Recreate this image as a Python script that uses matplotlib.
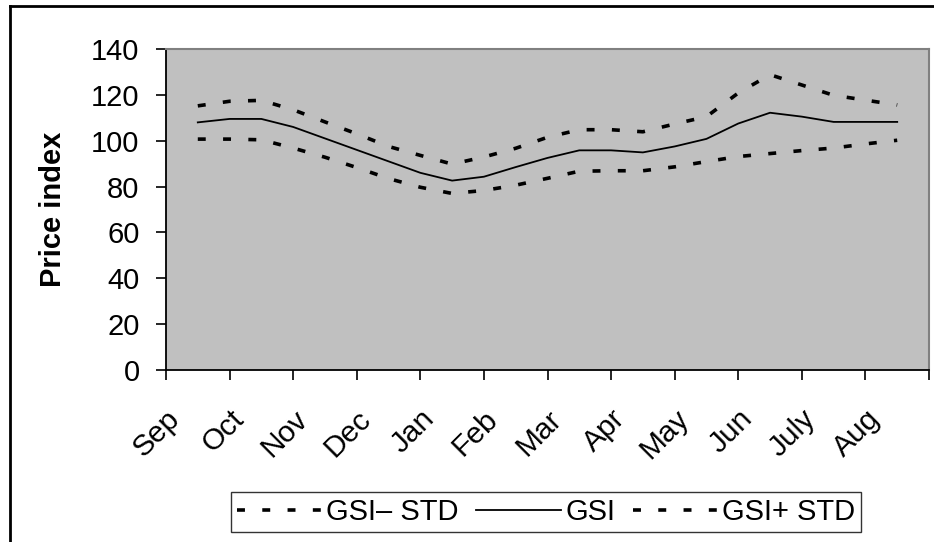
import numpy as np
import matplotlib
matplotlib.use("Agg")
import matplotlib.pyplot as plt
from matplotlib.lines import Line2D
from matplotlib.transforms import ScaledTranslation

plt.rcParams['font.family'] = ['Liberation Sans', 'DejaVu Sans']

months = ["Sep", "Oct", "Nov", "Dec", "Jan", "Feb", "Mar", "Apr", "May", "Jun", "July", "Aug"]
# semi-monthly observations, from mid-Sep to mid-Aug
gsi = [108.0, 109.5, 109.5, 106.0, 101.0, 96.0, 91.0, 86.0, 82.6, 84.3, 88.5, 92.5,
       95.8, 95.8, 94.9, 97.5, 100.8, 107.5, 112.2, 110.5, 108.2, 108.2, 108.2]
gsi_plus = [115.2, 117.2, 117.6, 113.5, 108.2, 103.0, 97.5, 93.6, 89.8, 92.9, 96.7, 101.5,
            104.8, 104.8, 103.9, 107.3, 110.5, 120.8, 128.8, 124.3, 119.8, 117.7, 115.6]
gsi_minus = [100.7, 100.7, 100.4, 96.8, 92.8, 88.3, 83.5, 79.7, 77.0, 78.3, 80.6, 83.6,
             86.7, 86.9, 86.9, 88.6, 90.9, 93.1, 94.4, 95.7, 96.8, 98.6, 100.2]
labels = ["GSI\u2013 STD", "GSI", "GSI+ STD"]
yticks = [0, 20, 40, 60, 80, 100, 120, 140]

W, H = 934, 542
fig = plt.figure(figsize=(W / 100, H / 100), dpi=100)
fig.patch.set_facecolor("white")
ax = fig.add_axes([166 / W, (H - 370) / H, (929 - 166) / W, (370 - 49) / H])
ax.set_facecolor("#C0C0C0")

x = 0.5 + 0.5 * np.arange(len(gsi))
dash = (2.2, 4.8)
l1, = ax.plot(x, gsi_minus, color="black", lw=2.6, dashes=dash, dash_capstyle="butt")
l2, = ax.plot(x, gsi, color="black", lw=1.3)
l3, = ax.plot(x, gsi_plus, color="black", lw=2.6, dashes=dash, dash_capstyle="butt")

ax.set_xlim(0, len(months))
ax.set_ylim(0, 140)
ax.set_yticks(yticks)
ax.set_yticklabels([str(v) for v in yticks])
ax.set_xticks(np.arange(len(months) + 1))
ax.set_xticklabels([])
ax.set_xticks(np.arange(len(months)) + 0.5, minor=True)
ax.set_xticklabels(months, minor=True, rotation=45, ha="right", va="center",
                   rotation_mode="anchor", fontsize=21.5)
ax.tick_params(axis="x", which="major", direction="out", length=7, width=1.2, color="black")
ax.tick_params(axis="x", which="minor", length=0, pad=32)
ax.tick_params(axis="y", direction="out", length=7, width=1.2, labelsize=21, pad=12)
offset = ScaledTranslation(-22 / 100, 0, fig.dpi_scale_trans)
for lab in ax.get_xticklabels(minor=True):
    lab.set_transform(lab.get_transform() + offset)

for s in ["top", "right"]:
    ax.spines[s].set_color("#808080")
    ax.spines[s].set_linewidth(1.5)
for s in ["left", "bottom"]:
    ax.spines[s].set_color("black")
    ax.spines[s].set_linewidth(1.3)

fig.text(53 / W, (H - 209) / H, "Price index", rotation=90, fontsize=21, fontweight="bold",
         ha="center", va="center")

leg = fig.legend([l1, l2, l3], labels, loc="center", bbox_to_anchor=(546 / W, 30 / H),
                 ncol=3, fontsize=21, frameon=True, fancybox=False, shadow=False,
                 handlelength=2.9, handletextpad=0.15, columnspacing=0.6,
                 borderpad=0.2, borderaxespad=0)
leg.get_frame().set_edgecolor("black")
leg.get_frame().set_linewidth(1.0)

# outer chart frame (left and top edges visible)
fig.add_artist(Line2D([10 / W, 10 / W], [0, (H - 6) / H], transform=fig.transFigure,
                      color="black", lw=2))
fig.add_artist(Line2D([10 / W, 1], [(H - 6) / H, (H - 6) / H], transform=fig.transFigure,
                      color="black", lw=2))

fig.savefig("out.png", dpi=100)
